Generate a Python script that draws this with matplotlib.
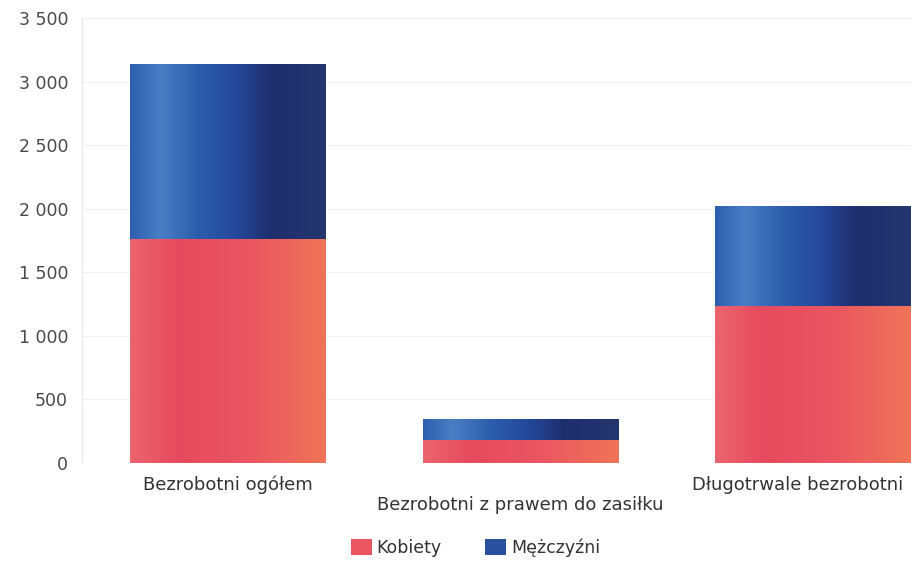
import numpy as np
import matplotlib.pyplot as plt
from matplotlib.patches import Patch
from matplotlib.colors import LinearSegmentedColormap
from matplotlib.transforms import ScaledTranslation

categories = ["Bezrobotni ogółem", "Bezrobotni z prawem do zasiłku", "Długotrwale bezrobotni"]
kobiety = [1760, 180, 1235]
mezczyzni = [1380, 165, 785]
yticks = [0, 500, 1000, 1500, 2000, 2500, 3000, 3500]
ytick_labels = ["0", "500", "1 000", "1 500", "2 000", "2 500", "3 000", "3 500"]

TEXT = "#4a4a4a"
RED_CMAP = LinearSegmentedColormap.from_list(
    "red", [(0, "#ec6470"), (0.25, "#e64a5e"), (0.6, "#ea5662"), (1, "#ef7458")])
BLUE_CMAP = LinearSegmentedColormap.from_list(
    "blue", [(0, "#2d5fae"), (0.15, "#4a7ec4"), (0.35, "#2c5dab"),
             (0.55, "#24479a"), (0.72, "#1f2f6e"), (1, "#24356f")])

fig = plt.figure(figsize=(9.11, 5.63), dpi=100)
ax = fig.add_axes([0.09, 0.1776, 0.963, 0.7904])

x = np.arange(len(categories))
width = 0.67
red_bars = ax.bar(x, kobiety, width, color="#e8505e", label="Kobiety", zorder=2)
blue_bars = ax.bar(x, mezczyzni, width, bottom=kobiety, color="#2a4f9e",
                   label="Mężczyźni", zorder=2)

# horizontal gradient inside each bar, clipped to the bar rectangle
grad = np.linspace(0, 1, 256).reshape(1, -1)
for bars, cmap in ((red_bars, RED_CMAP), (blue_bars, BLUE_CMAP)):
    for b in bars:
        x0, y0 = b.get_x(), b.get_y()
        im = ax.imshow(grad, cmap=cmap, aspect="auto", zorder=3,
                       extent=[x0, x0 + b.get_width(), y0, y0 + b.get_height()])
        im.set_clip_path(b)

ax.set_xlim(-0.5, 2.5)
ax.set_ylim(0, 3500)
ax.set_yticks(yticks)
ax.set_yticklabels(ytick_labels, color=TEXT, fontsize=12.5)
ax.set_xticks(x)
ax.set_xticklabels(categories, color="#333333", fontsize=13)
ax.tick_params(length=0)
ax.tick_params(axis="y", pad=10)
ticks = ax.xaxis.get_major_ticks()
for i, t in enumerate(ticks):
    t.set_pad(24 if i == 1 else 9)
# last label is nudged left so it stays inside the figure
last = ticks[2].label1
last.set_transform(last.get_transform() + ScaledTranslation(-0.15, 0, fig.dpi_scale_trans))

ax.grid(axis="y", color="#f0f0f0", linewidth=0.8, zorder=0)
for side in ("top", "right", "bottom"):
    ax.spines[side].set_visible(False)
ax.spines["left"].set_color("#e6e6e6")

handles = [Patch(facecolor="#ea5560", label="Kobiety"),
           Patch(facecolor="#2a4f9e", label="Mężczyźni")]
fig.legend(handles=handles, loc="center", bbox_to_anchor=(0.522, 0.027), ncol=2,
           frameon=False, fontsize=12.5, handlelength=1.2, handleheight=1.1,
           handletextpad=0.3, columnspacing=2.5, labelcolor="#333333")

fig.savefig("out.png", dpi=100, facecolor="white")
